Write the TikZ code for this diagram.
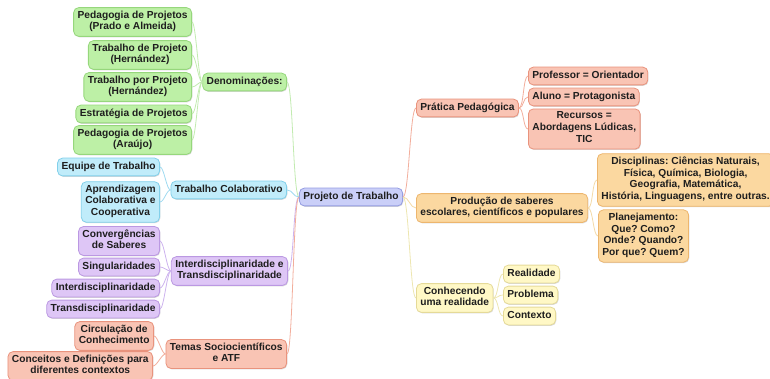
\documentclass[tikz,border=0pt]{standalone}
\usepackage{fontspec}
\setmainfont{Liberation Sans}
\frenchspacing
\usetikzlibrary{shadows}
\definecolor{gfill}{HTML}{BDF0A6}\definecolor{gdraw}{HTML}{96D77C}\definecolor{gline}{HTML}{C2EBB0}
\definecolor{bfill}{HTML}{C0ECFA}\definecolor{bdraw}{HTML}{82D0EA}\definecolor{bline}{HTML}{9FDAF0}
\definecolor{pfill}{HTML}{DEC6F6}\definecolor{pdraw}{HTML}{BB98E2}\definecolor{pline}{HTML}{CDB3EE}
\definecolor{sfill}{HTML}{F9C4B4}\definecolor{sdraw}{HTML}{E9937D}\definecolor{sline}{HTML}{F2AE9C}
\definecolor{cfill}{HTML}{CACFF8}\definecolor{cdraw}{HTML}{959DE2}
\definecolor{ofill}{HTML}{FBD8A0}\definecolor{odraw}{HTML}{EDB66E}\definecolor{oline}{HTML}{F3D9A6}
\definecolor{yfill}{HTML}{FFF8C6}\definecolor{ydraw}{HTML}{E5DA98}\definecolor{yline}{HTML}{EDE6B0}
\definecolor{txt}{HTML}{1E1E1E}
\tikzset{
  box/.style={rounded corners=5pt, line width=0.8pt, align=center, inner xsep=4pt, inner ysep=3pt,
    font=\fontsize{10.2}{11.8}\selectfont\bfseries\frenchspacing, text=txt,
    execute at begin node={\strut}, execute at end node={\strut},
    drop shadow={shadow xshift=0.7pt, shadow yshift=-0.9pt, fill=black, opacity=0.15}},
  gbox/.style={box, fill=gfill, draw=gdraw},
  bbox/.style={box, fill=bfill, draw=bdraw},
  pbox/.style={box, fill=pfill, draw=pdraw},
  sbox/.style={box, fill=sfill, draw=sdraw},
  cbox/.style={box, fill=cfill, draw=cdraw},
  obox/.style={box, fill=ofill, draw=odraw},
  ybox/.style={box, fill=yfill, draw=ydraw},
  lnk/.style={line width=0.8pt}
}
\begin{document}
\begin{tikzpicture}[x=1pt,y=-1pt]
\useasboundingbox (0,0) rectangle (770,379);
% root
\node[cbox] (root) at (351,197) {Projeto de Trabalho};
% green
\node[gbox, anchor=east] (g1) at (192,22) {Pedagogia de Projetos\\(Prado e Almeida)};
\node[gbox, anchor=east] (g2) at (192,55) {Trabalho de Projeto\\(Hernández)};
\node[gbox, anchor=east] (g3) at (192,87) {Trabalho por Projeto\\(Hernández)};
\node[gbox, anchor=east] (g4) at (192,114) {Estratégia de Projetos};
\node[gbox, anchor=east] (g5) at (192,140) {Pedagogia de Projetos\\(Araújo)};
\node[gbox, anchor=east] (den) at (287,82) {Denominações:};
% blue
\node[bbox, anchor=east] (b1) at (160,167) {Equipe de Trabalho};
\node[bbox, anchor=east] (b2) at (160,202) {Aprendizagem\\Colaborativa e\\Cooperativa};
\node[bbox, anchor=east] (tc) at (287,190) {Trabalho Colaborativo};
% purple
\node[pbox, anchor=east] (p1) at (160,241) {Convergências\\de Saberes};
\node[pbox, anchor=east] (p2) at (160,267) {Singularidades};
\node[pbox, anchor=east] (p3) at (160,288) {Interdisciplinaridade};
\node[pbox, anchor=east] (p4) at (160,309) {Transdisciplinaridade};
\node[pbox, anchor=east] (it) at (288,271) {Interdisciplinaridade e\\Transdisciplinaridade};
% salmon
\node[sbox, anchor=east] (s1) at (154,336) {Circulação de\\Conhecimento};
\node[sbox, anchor=east] (s2) at (153,366) {Conceitos e Definições para\\diferentes contextos};
\node[sbox, anchor=east] (ts) at (287,354) {Temas Sociocientíficos\\e ATF};
% right
\node[sbox, anchor=west] (pp) at (416,108) {Prática Pedagógica};
\node[sbox, anchor=west] (r1) at (528,76) {Professor = Orientador};
\node[sbox, anchor=west] (r2) at (528,97) {Aluno = Protagonista};
\node[sbox, anchor=west] (r3) at (528,129) {Recursos =\\Abordagens Lúdicas,\\TIC};
\node[obox, anchor=west] (pr) at (416,208) {Produção de saberes\\escolares, científicos e populares};
\node[obox, anchor=west] (o1) at (597,180) {Disciplinas: Ciências Naturais,\\Física, Química, Biologia,\\Geografia, Matemática,\\História, Linguagens, entre outras.};
\node[obox, anchor=west] (o2) at (598,236) {Planejamento:\\Que? Como?\\Onde? Quando?\\Por que? Quem?};
\node[ybox, anchor=west] (cr) at (416,298) {Conhecendo\\uma realidade};
\node[ybox, anchor=west] (y1) at (503,274) {Realidade};
\node[ybox, anchor=west] (y2) at (503,295) {Problema};
\node[ybox, anchor=west] (y3) at (503,316) {Contexto};
% connectors root
\draw[lnk, draw=gline] (root.west) .. controls +(-6,0) and +(6,0) .. (den.east);
\draw[lnk, draw=bline] (root.west) .. controls +(-6,0) and +(6,0) .. (tc.east);
\draw[lnk, draw=pline] (root.west) .. controls +(-6,0) and +(6,0) .. (it.east);
\draw[lnk, draw=sline] (root.west) .. controls +(-6,0) and +(6,0) .. (ts.east);
\draw[lnk, draw=sline] (root.east) .. controls +(6,0) and +(-6,0) .. (pp.west);
\draw[lnk, draw=oline] (root.east) .. controls +(6,0) and +(-6,0) .. (pr.west);
\draw[lnk, draw=yline] (root.east) .. controls +(6,0) and +(-6,0) .. (cr.west);
% left children
\foreach \c in {g1,g2,g3,g4,g5} \draw[lnk, draw=gline] (den.west) .. controls +(-4,0) and +(4,0) .. (\c.east);
\foreach \c in {b1,b2} \draw[lnk, draw=bline] (tc.west) .. controls +(-4,0) and +(4,0) .. (\c.east);
\foreach \c in {p1,p2,p3,p4} \draw[lnk, draw=pline] (it.west) .. controls +(-4,0) and +(4,0) .. (\c.east);
\foreach \c in {s1,s2} \draw[lnk, draw=sline] (ts.west) .. controls +(-4,0) and +(4,0) .. (\c.east);
% right children
\foreach \c in {r1,r2,r3} \draw[lnk, draw=sline] (pp.east) .. controls +(5,0) and +(-5,0) .. (\c.west);
\foreach \c in {o1,o2} \draw[lnk, draw=oline] (pr.east) .. controls +(5,0) and +(-5,0) .. (\c.west);
\foreach \c in {y1,y2,y3} \draw[lnk, draw=yline] (cr.east) .. controls +(5,0) and +(-5,0) .. (\c.west);
\end{tikzpicture}
\end{document}
